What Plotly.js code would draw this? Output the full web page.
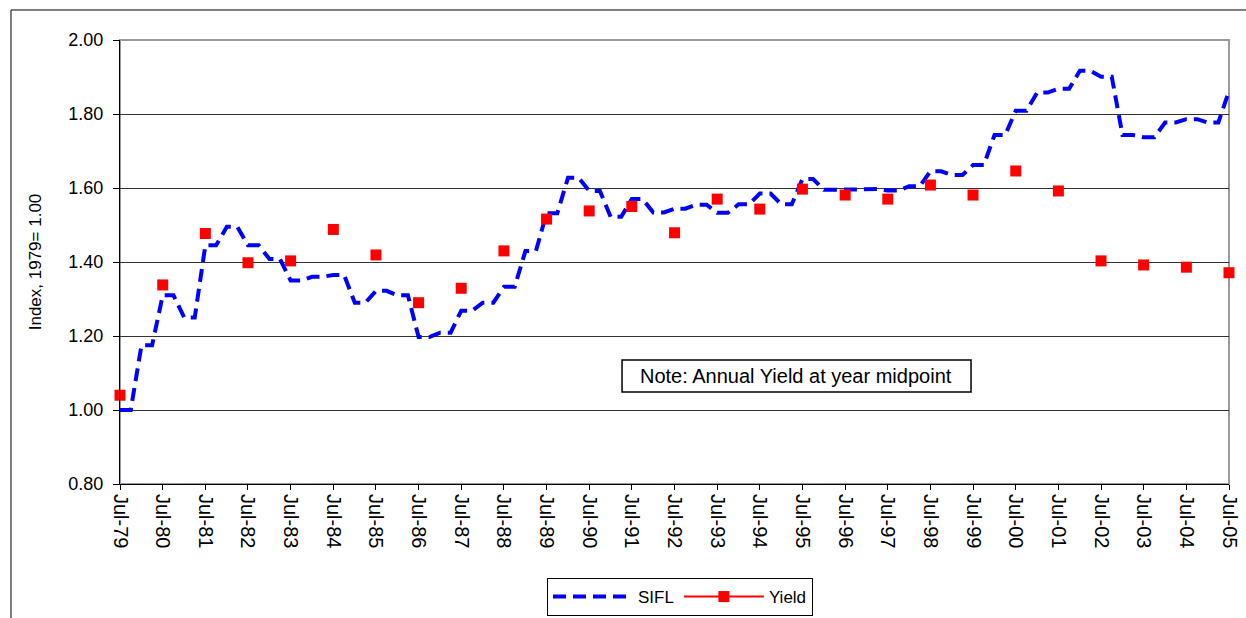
<!DOCTYPE html>
<html><head><meta charset="utf-8">
<script src="https://cdn.plot.ly/plotly-3.0.1.min.js"></script>
<style>html,body{margin:0;padding:0;background:#fff}#chart{width:1246px;height:618px}</style>
</head><body><div id="chart"></div>
<script>
// SIFL index, one value per half-year (Jul-79, Jan-80, Jul-80, ... Jul-05)
const siflStart = [1979, 7];
const siflValues = [
  1.000, 1.175, 1.310, 1.250, 1.445, 1.495, 1.445, 1.408, 1.350, 1.360,
  1.365, 1.290, 1.322, 1.310, 1.197, 1.209, 1.268, 1.290, 1.333, 1.430,
  1.532, 1.628, 1.592, 1.522, 1.570, 1.534, 1.544, 1.555, 1.533, 1.556,
  1.585, 1.556, 1.624, 1.595, 1.597, 1.597, 1.593, 1.605, 1.645, 1.635,
  1.662, 1.743, 1.809, 1.858, 1.868, 1.917, 1.901, 1.743, 1.737, 1.777,
  1.786, 1.777, 1.862
];
// Annual yield index, at each year's midpoint (Jul-79 ... Jul-05)
const yieldFirstYear = 1979;
const yieldValues = [
  1.040, 1.338, 1.477, 1.398, 1.403, 1.488, 1.419, 1.290, 1.329, 1.430,
  1.516, 1.538, 1.550, 1.479, 1.570, 1.543, 1.597, 1.581, 1.570, 1.608,
  1.581, 1.646, 1.592, 1.403, 1.392, 1.386, 1.371
];
const seriesNames = ['SIFL', 'Yield'];
const noteText = 'Note: Annual Yield at year midpoint';
const yTitle = 'Index, 1979= 1.00';

function ym(y, m) { return y + '-' + String(m).padStart(2, '0') + '-01'; }
function addMonths(y, m, k) { const t = y * 12 + (m - 1) + k; return [Math.floor(t / 12), (t % 12) + 1]; }

// each half-year value is held through the first quarter of its half-year
const siflX = [], siflY = [];
siflValues.forEach((v, i) => {
  const [y, m] = addMonths(siflStart[0], siflStart[1], 6 * i);
  siflX.push(ym(y, m)); siflY.push(v);
  if (i < siflValues.length - 1) {
    const [y2, m2] = addMonths(y, m, 3);
    siflX.push(ym(y2, m2)); siflY.push(v);
  }
});
const yieldX = yieldValues.map((v, i) => ym(yieldFirstYear + i, 7));

const FONT = 'Liberation Sans, Arial, sans-serif';

const traces = [
  { type: 'scatter', mode: 'lines', name: seriesNames[0], x: siflX, y: siflY,
    line: { color: '#0000ff', width: 4, dash: '13px,7px' } },
  { type: 'scatter', mode: 'lines+markers', name: seriesNames[1], x: [null], y: [null],
    line: { color: '#ff0000', width: 2 }, marker: { symbol: 'square', color: '#ff0000', size: 11 } },
  { type: 'scatter', mode: 'markers', name: seriesNames[1], x: yieldX, y: yieldValues, showlegend: false,
    cliponaxis: false, marker: { symbol: 'square', color: '#ff0000', size: 11 } }
];

const layout = {
  width: 1246, height: 618,
  margin: { l: 120, r: 17, t: 40, b: 134 },
  paper_bgcolor: '#ffffff', plot_bgcolor: '#ffffff',
  font: { family: FONT, color: '#000000', size: 16 },
  showlegend: true,
  legend: { orientation: 'h', x: 547 / 1246, xanchor: 'left', xref: 'container',
    y: (618 - 616) / 618, yanchor: 'bottom', yref: 'container',
    bordercolor: '#000000', borderwidth: 1, font: { size: 17, family: FONT }, itemwidth: 80,
    traceorder: 'normal' },
  xaxis: {
    type: 'date', range: ['1979-07-01', '2005-07-01'], automargin: false,
    tick0: '1979-07-01', dtick: 'M12', tickformat: '%b-%y', tickangle: 90,
    ticks: 'outside', ticklen: 5, tickcolor: '#000', tickfont: { size: 20, family: FONT },
    showline: true, linecolor: '#000', linewidth: 1, showgrid: false, zeroline: false
  },
  yaxis: {
    range: [0.8, 2.0], dtick: 0.2, tickformat: '.2f', automargin: false,
    ticks: 'outside', ticklen: 6, tickcolor: '#000', tickfont: { size: 18, family: FONT },
    ticklabelstandoff: 6,
    showline: true, linecolor: '#000', linewidth: 1,
    showgrid: true, gridcolor: '#333333', gridwidth: 1, zeroline: false,
    title: { text: yTitle, font: { size: 17, family: FONT }, standoff: 22 }
  },
  shapes: [
    { type: 'rect', xref: 'paper', yref: 'paper', x0: 0, x1: 1, y0: 0, y1: 1,
      line: { color: '#9a9a9a', width: 2 }, layer: 'below' },
    { type: 'rect', xref: 'paper', yref: 'paper', x0: -0.0983, x1: 1.05, y0: -0.4, y1: 1.0676,
      line: { color: '#000000', width: 1 } },
    { type: 'rect', xref: 'paper', yref: 'paper', x0: 0.4527, x1: 0.7674, y0: 0.2072, y1: 0.2793,
      fillcolor: '#ffffff', line: { color: '#000000', width: 1.5 }, layer: 'above' }
  ],
  annotations: [
    { xref: 'paper', yref: 'paper', x: 0.61, y: 0.2432, xanchor: 'center', yanchor: 'middle',
      text: noteText, showarrow: false, font: { size: 20, family: FONT } }
  ]
};

Plotly.newPlot('chart', traces, layout, { displayModeBar: false, responsive: false });
</script>
</body></html>
